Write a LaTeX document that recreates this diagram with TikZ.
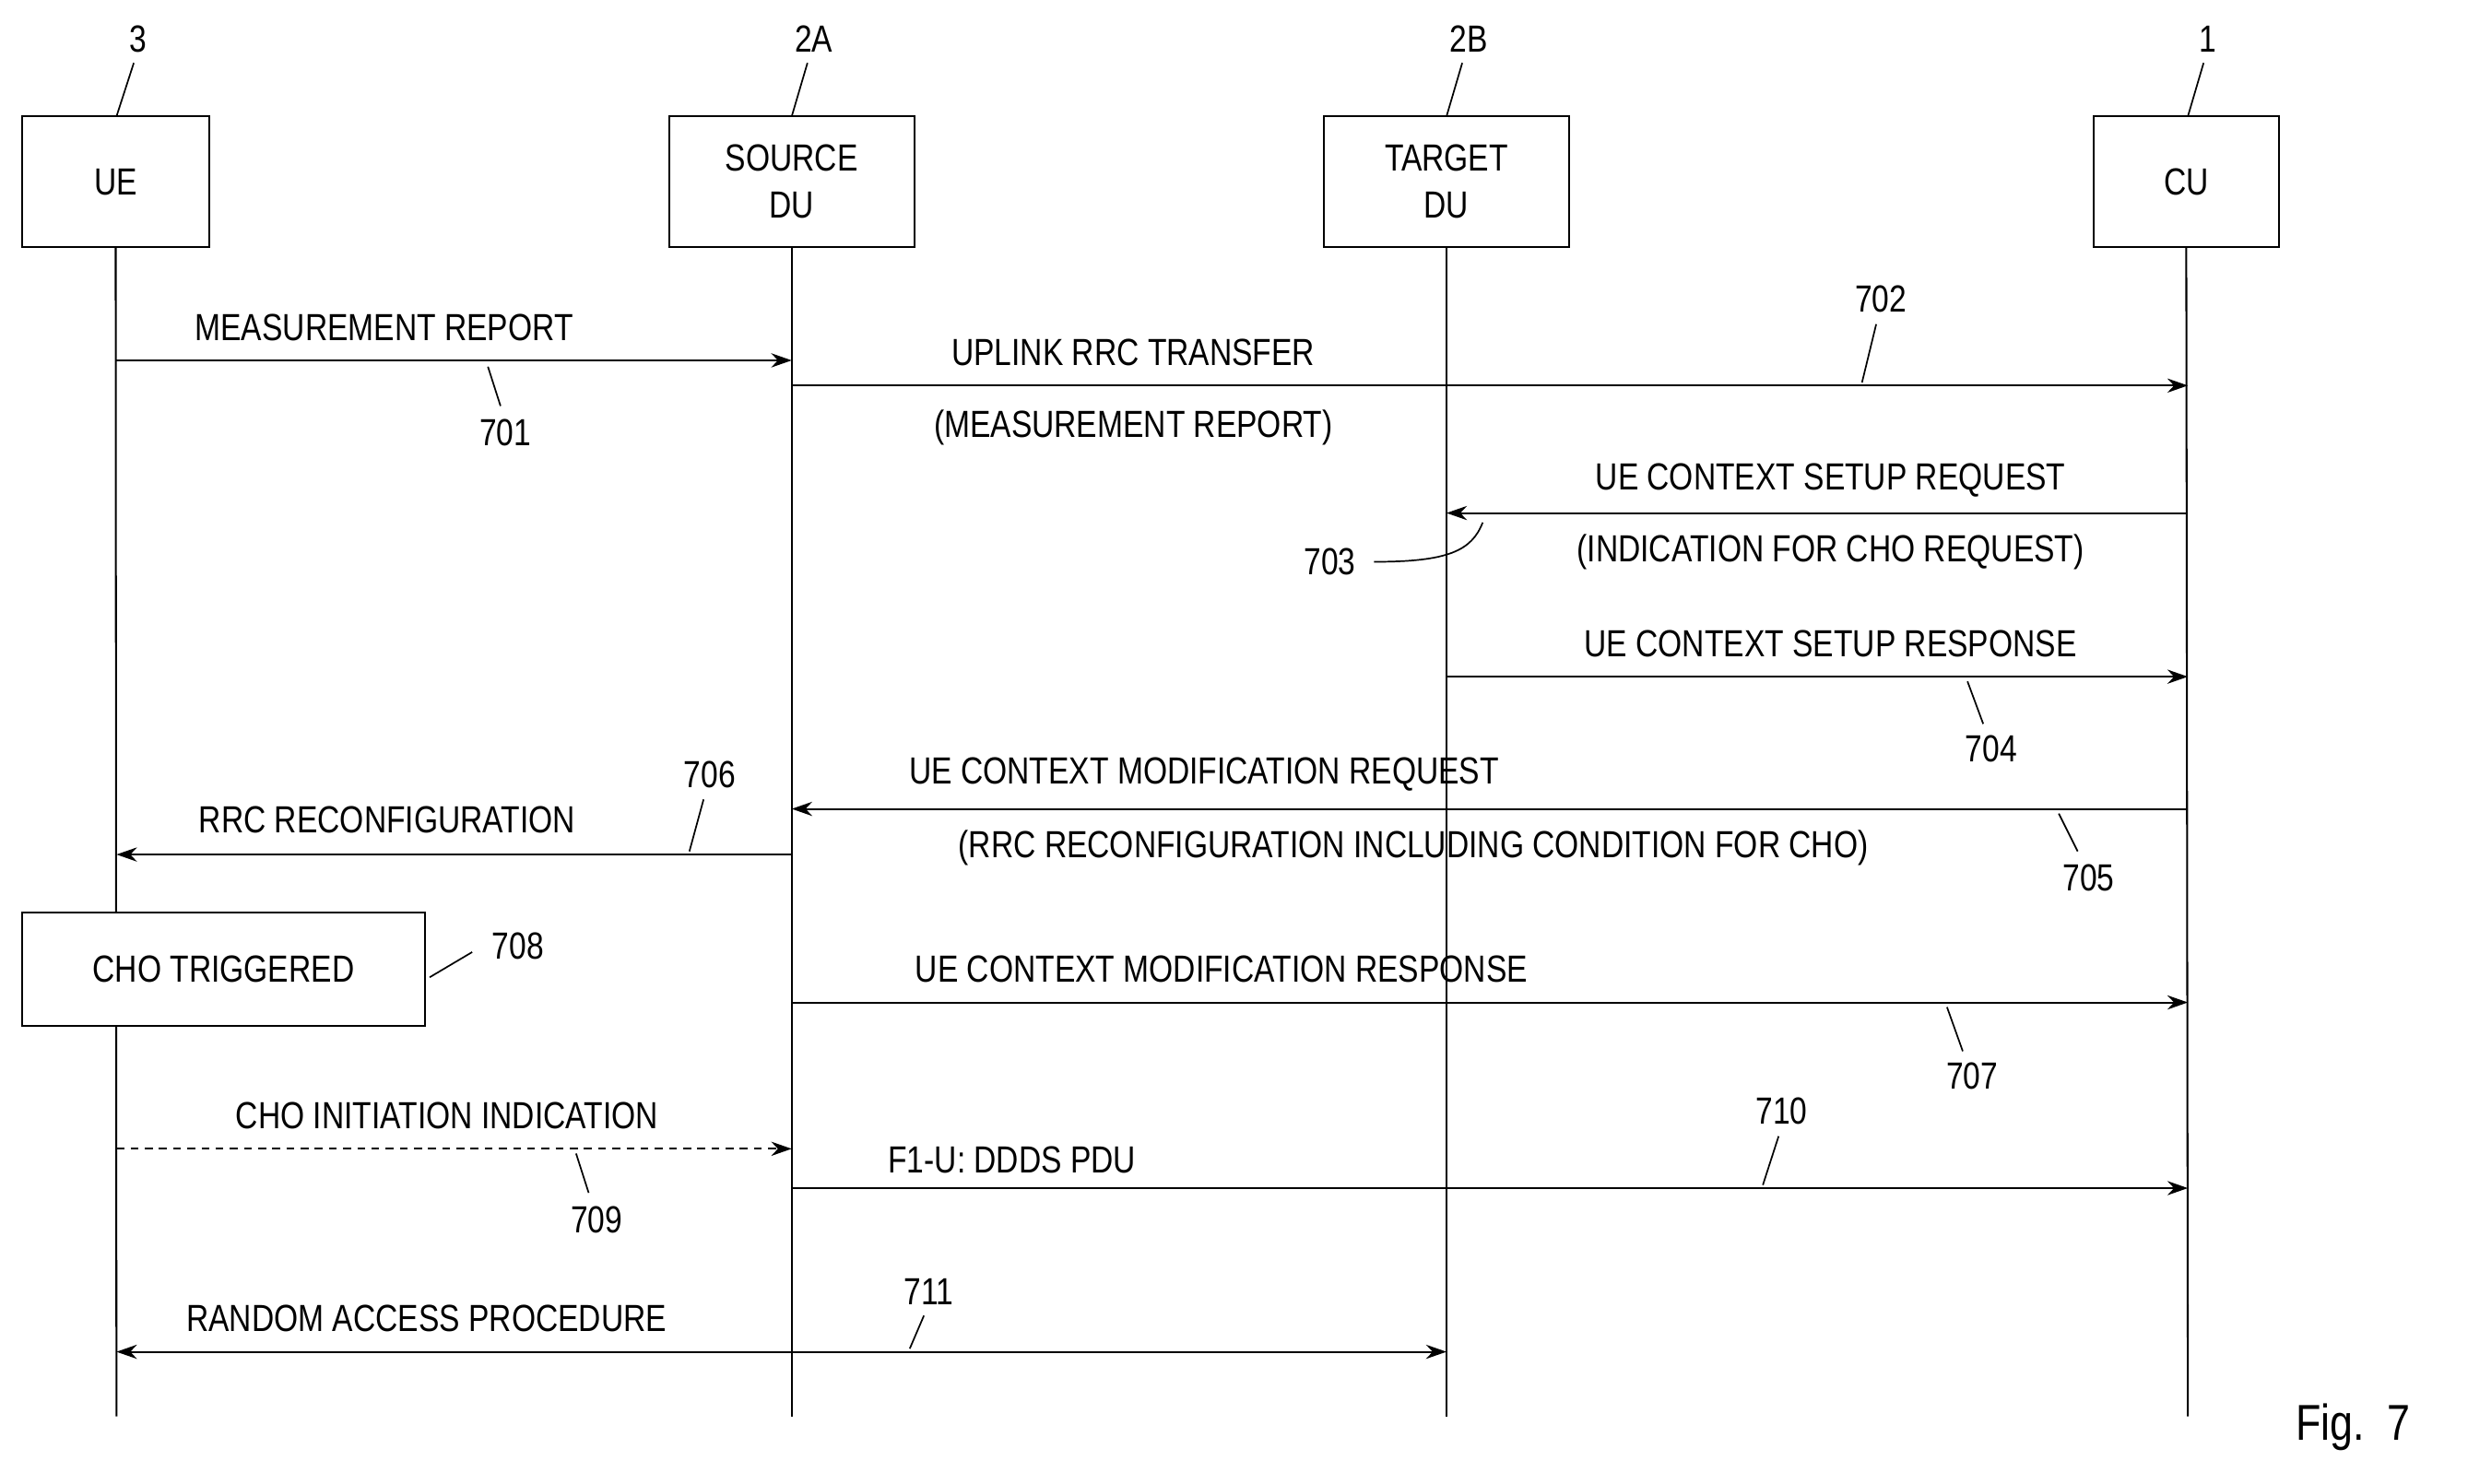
\documentclass[tikz,border=0pt]{standalone}
\usepackage{fontspec}
\setmainfont{Liberation Sans}[FakeStretch=0.82]
\usetikzlibrary{arrows.meta}
\begin{document}
\begin{tikzpicture}[x=1pt,y=-1pt,
  box/.style={draw,line width=1.2pt,inner sep=0pt,align=center},
  life/.style={line width=1.2pt},
  msg/.style={line width=1.2pt,-{Stealth[length=13pt,width=9pt]}},
  lead/.style={line width=1pt},
  lbl/.style={inner sep=0pt,font=\fontsize{24}{30}\selectfont},
  every node/.style={font=\fontsize{24}{30}\selectfont}]
\useasboundingbox (0,0) rectangle (1568,943);
% boxes
\node[box,minimum width=119pt,minimum height=83pt] (ue) at (73.5,115.5) {UE};
\node[box,minimum width=156pt,minimum height=83pt] (sdu) at (503,115.5) {SOURCE\\DU};
\node[box,minimum width=156pt,minimum height=83pt] (tdu) at (919,115.5) {TARGET\\DU};
\node[box,minimum width=118pt,minimum height=83pt] (cu) at (1389,115.5) {CU};
\node[lbl] (n3) at (88,25) {3};
\node[lbl] (n2a) at (517,25) {2A};
\node[lbl] (n2b) at (933,25) {2B};
\node[lbl] (n1) at (1403,25) {1};
\draw[lead] (85,40) -- (74,74);
\draw[lead] (513,40) -- (503,74);
\draw[lead] (929,40) -- (919,74);
\draw[lead] (1400,40) -- (1390,74);
% lifelines
\coordinate (ueB) at (74,900); \coordinate (sduB) at (503,900);
\coordinate (tduB) at (919,900); \coordinate (cuB) at (1390,900);
\draw[life] (ue.south) -- (ueB);
\draw[life] (sdu.south) -- (sduB);
\draw[life] (tdu.south) -- (tduB);
\draw[life] (cu.south) -- (cuB);
% 708 box
\node[box,minimum width=256pt,minimum height=72pt,fill=white] (cho) at (142,616) {CHO TRIGGERED};
% coordinates on lifelines
\foreach \n/\x in {u/74,s/503,t/919,c/1390}{
  \foreach \y in {229,245,326,430,514,543,637,730,755,859}{
    \coordinate (\n\y) at (\x,\y);}}
\draw[msg] (u229) -- (s229);
\node[lbl] at (244,208) {MEASUREMENT REPORT};
\node[lbl] at (321,275) {701}; \draw[lead] (310,233) -- (318,258);
\draw[msg] (s245) -- (c245);
\node[lbl] at (720,224) {UPLINK RRC TRANSFER};
\node[lbl] at (720,272) {(MEASUREMENT REPORT)};
\node[lbl] at (1195,190) {702}; \draw[lead] (1183,243) -- (1192,206);
\draw[msg] (c326) -- (t326);
\node[lbl] at (1163,305) {UE CONTEXT SETUP REQUEST};
\node[lbl] at (1163,351) {(INDICATION FOR CHO REQUEST)};
\node[lbl] at (845,357) {703}; \draw[lead] (873,357) .. controls (920,357) and (935,350) .. (942,332);
\draw[msg] (t430) -- (c430);
\node[lbl] at (1163,409) {UE CONTEXT SETUP RESPONSE};
\node[lbl] at (1265,476) {704}; \draw[lead] (1250,433) -- (1260,460);
\draw[msg] (c514) -- (s514);
\node[lbl] at (765,492) {UE CONTEXT MODIFICATION REQUEST};
\node[lbl] at (898,539) {(RRC RECONFIGURATION INCLUDING CONDITION FOR CHO)};
\node[lbl] at (1327,558) {705}; \draw[lead] (1308,517) -- (1320,541);
\draw[msg] (s543) -- (u543);
\node[lbl] at (246,521) {RRC RECONFIGURATION};
\node[lbl] at (451,492) {706}; \draw[lead] (438,541) -- (447,508);
\node[lbl] at (329,601) {708}; \draw[lead] (273,621) -- (300,605);
\draw[msg] (s637) -- (c637);
\node[lbl] at (776,616) {UE CONTEXT MODIFICATION RESPONSE};
\node[lbl] at (1253,684) {707}; \draw[lead] (1237,640) -- (1247,668);
\draw[msg,dashed,dash pattern=on 5pt off 4pt] (u730) -- (s730);
\node[lbl] at (284,709) {CHO INITIATION INDICATION};
\node[lbl] at (379,775) {709}; \draw[lead] (366,733) -- (374,758);
\draw[msg] (s755) -- (c755);
\node[lbl] at (643,737) {F1-U: DDDS PDU};
\node[lbl] at (1132,706) {710}; \draw[lead] (1120,753) -- (1130,722);
\draw[msg,{Stealth[length=13pt,width=9pt]}-{Stealth[length=13pt,width=9pt]}] (u859) -- (t859);
\node[lbl] at (271,838) {RANDOM ACCESS PROCEDURE};
\node[lbl] at (590,821) {711}; \draw[lead] (578,857) -- (587,836);
\node[lbl,font=\fontsize{32}{36}\selectfont] at (1495,907) {Fig.\ \ 7};
\end{tikzpicture}
\end{document}
